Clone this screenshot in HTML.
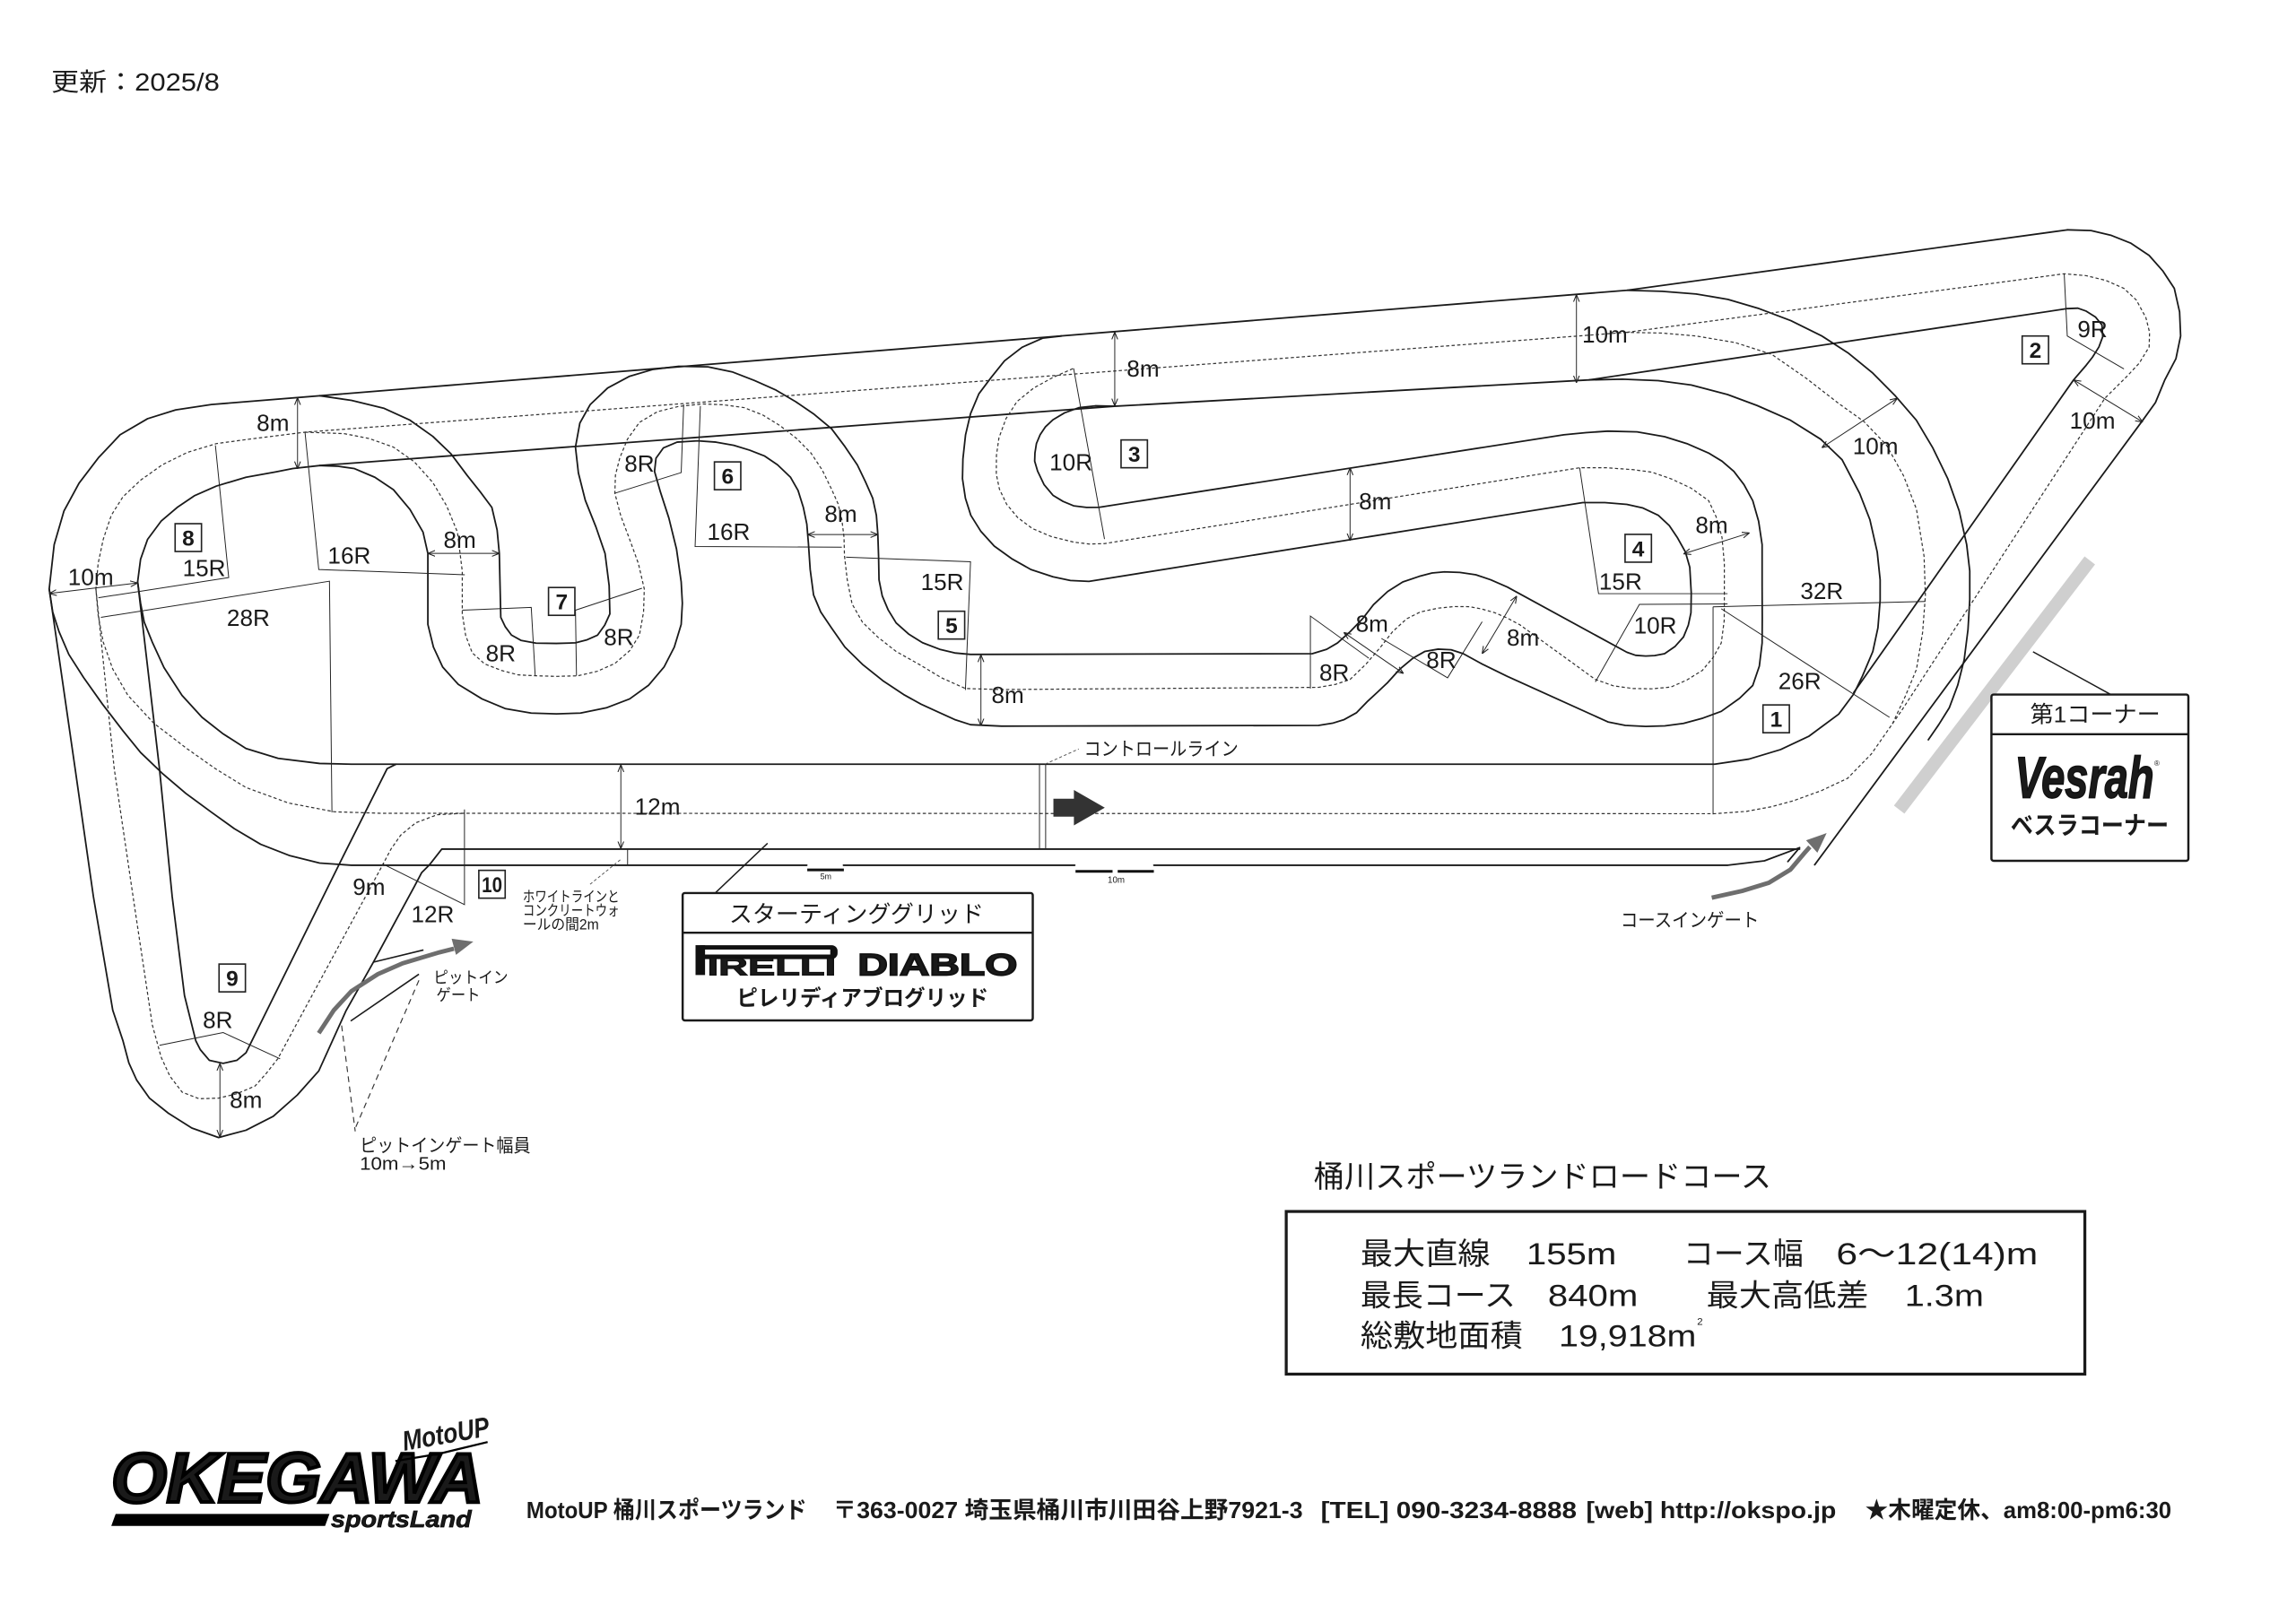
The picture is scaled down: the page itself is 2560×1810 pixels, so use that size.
<!DOCTYPE html>
<html><head><meta charset="utf-8"><style>
html,body{margin:0;padding:0;background:#fff;}
svg{display:block;}
text{font-family:"Liberation Sans","Noto Sans CJK JP",sans-serif;fill:#1a1a1a;}
.t{fill:none;stroke:#1a1a1a;stroke-width:1.1;stroke-linejoin:round;stroke-linecap:round;}
.d{fill:none;stroke:#333;stroke-width:0.75;stroke-dasharray:2.2 1.6;}
.r{fill:none;stroke:#222;stroke-width:0.6;}
.dm{fill:none;stroke:#222;stroke-width:0.6;marker-start:url(#a);marker-end:url(#a);}
.lb{font-size:16px;text-anchor:middle;}
.nb rect{fill:#fff;stroke:#222;stroke-width:1;}
.nb text{font-size:15px;font-weight:bold;text-anchor:middle;}
</style></head><body>
<svg width="2560" height="1810" viewBox="0 0 1568 1108.6" preserveAspectRatio="none" xmlns="http://www.w3.org/2000/svg">
<defs>
<marker id="a" viewBox="0 0 10 10" refX="10" refY="5" markerWidth="5" markerHeight="5" markerUnits="userSpaceOnUse" orient="auto-start-reverse"><path d="M0,1 L10,5 L0,9" fill="none" stroke="#222" stroke-width="1.3"/></marker>
</defs>
<rect x="0" y="0" width="1568" height="1108.6" fill="#fff"/>

<text x="35" y="62" font-size="17" textLength="115" lengthAdjust="spacingAndGlyphs">更新：2025/8</text>

<!-- track solid edges -->
<polyline class="t" points="1411.8,157 1111,198.3 144.4,276.3 120,280 100.8,286 82,297 67.2,312.7 54,330 43.7,349 37,372 33.6,402.3 51.3,525 63.8,612.5 77,690 84,711 88,726 93.3,737.7 102,750 115,760.4 131,770.5 149.3,777 168,772 186.6,762.5 203,748 217.7,731.5 236.4,690.2 255,657.2 270.6,628.3 283,605.5 288,596 293.5,590.5"/>
<polyline class="t" points="33.6,402.3 36,418 40.3,431.4 47,447 57.1,462.8 70,481 84,499.2 96,514 110.8,528.2 127,542 144.4,554.8 160,566 178,576.7 198,584.5 218.3,589.5 240,591 551,591"/>
<polyline class="t" points="576,591 734,591"/>
<polyline class="t" points="788,591 1180,591 1205,588 1229,579 1221,588.5"/>
<polyline class="t" points="293.5,590.5 301.7,580 1229,580"/>
<polyline class="t" points="1411.8,210.8 1085.2,259.5 761,277.5 218.3,318 200,320 188,322.4 168,326 147.8,332 133,338.5 121,346.6 110,356 100.8,368.4 96,382 94,397.4 108.9,525 117.6,612.5 126,680 133.7,710.9 136.8,717 143,724.3 152.4,726.3 161.7,724.3 168,719.1 233.3,587 264.4,525 270.4,522"/>
<polyline class="t" points="94,397.4 96,412 98.5,425 104,438.6 112,456 124.3,475 138,490 152,501 168,511.3 190,518 218.3,521.5 240,522 1171,522 1194.4,518.5 1216,512 1235.2,503 1255.7,487.8 1266,474 1272,461.6 1279,445 1282.5,428.8 1284,410 1284,396 1282,377 1277,355 1270,337 1258,314 1243.4,300 1222.7,287 1200,277 1179.8,269.5 1155,263 1132.5,260 1108,259 1085.2,259.5"/>
<polyline class="t" points="1111,198.3 1135,199 1158.3,200.8 1180,204.5 1201.3,210.8 1223,219 1244.2,229.5 1262,241 1278.6,254.5 1294,270 1308.7,287 1320,306 1330.2,327 1338,349 1343.1,372 1345.2,390 1345.2,409.5 1344,430 1341.4,450.6 1337,468 1331.2,483.5 1324,495 1316.9,505.3"/>
<polyline class="t" points="1411.8,157 1428,157.5 1441.9,160.8 1455,166 1467.7,174.5 1477,185 1484.9,197 1488.5,213 1489.2,229.5 1486,245 1478.4,259.5 1472,275 1463.4,287 1239.3,590.7"/>
<polyline class="t" points="1411.8,210.8 1419,210.5 1424.7,212.5 1431,216.5 1435.5,222 1436,230 1433.4,237 1429,244 1424.7,249.5 1416.1,259.5 1266,473"/>
<polyline class="t" points="218.3,270.3 240,273.5 262,278.8 280,287 295.6,298.1 308,310 319.1,324.8 328,336 335.9,346.6 339.5,362 341,378 341.5,400 342,421.7 345,428 349.3,433.8 356,437.5 366.1,439.3 380,439.5 393,439.1 401,437 408.1,433.8 413,427 416.5,419.3 416,400 413.2,378 407,360 399.7,341.7 395,323 393,305.4 396,289 403.1,276.3 415,265 430,257 446,252.3 463.5,250.2 483.5,250.6 500,254 515.2,259.9 530,266.5 543.3,274.3 556,283 567.9,292.9 577,305 585.5,317.6 591,329 596,340.3 598.5,352 599.5,365.1 600,380 600.3,396 602.5,407 606.6,416.7 612,425.5 620.7,433.2 630,439 641.7,443.5 652,446 662.8,447 896.2,446.5 906,443.5 913.4,439.2 922,431.5 930.5,422.7 938,413 947.7,404 958,397.5 969.2,393.7 978,391.4 986.4,390.6 997,391 1007.9,392.6 1018,396 1029.4,401 1111,445.5 1117,447.6 1123.9,448.1 1130,447.8 1136.8,446.5 1144,441.5 1149.7,435.1 1153,427 1154.8,418.5 1155,405 1154,387.5 1151,377 1145.4,367 1140,359 1132.5,352 1122,347 1111,344.5 1096,343.3 1080.9,343.3 743.7,397.1 731,396.5 719.1,394 704,389 690.9,381.6 679,373 669.9,363 663,352 659.3,340.3 657.3,327 657.6,313.5 659.4,297 662.8,282.6 668.5,269 676.9,257.8 686,246.5 698,237.2 712,231 725,229.5"/>
<polyline class="t" points="218.3,318 231,318.5 241.8,320 256,326 268.7,334.5 280,348 288.9,363.5 292.2,378 292.2,400 292.2,426.5 296,442 302.3,455.6 313,467.5 329.2,477.4 345,484 362.8,487.1 380,487.6 396.4,487.1 414,483.5 430,477.4 443,468 453.5,455.6 460.5,442 465.2,426.5 466,412 465.2,397.4 462,375 456.8,353.9 451,336 447,322 448,313 453,306 462.4,302 476.5,301.1 489,302 501.1,304.2 512,307.5 522.2,311.5 531,317.5 539.8,325.9 545,335 548.6,346.5 551,358 552.1,371.3 553.3,389 555.6,406.4 560.5,418 567.9,429 577,442 589,453.8 603,465 617.1,474.4 629,481 641.7,486.8 652,491.5 662.8,495 683.9,496 900.5,495.5 910,494 918,491.5 926.3,486.9 934,479 940.5,473 947.7,466.2 956,457 964.9,449.6 973,445 982.1,443.4 991,443.8 999.3,446.5 1013,454 1029.4,462 1098.1,493.1 1110,495.5 1123.9,496.2 1137,495.8 1149.7,494.1 1163,490.5 1175.5,485.9 1188,477 1197,468.2 1201.5,455 1203.4,439.2 1203.5,422 1203.4,400 1203.4,372 1201,356 1197,342 1191,331 1184.1,322 1176,315 1166.9,309.5 1152,303 1136.8,298.3 1118,295 1098.1,294.5 1083,295.5 1068,297 750.7,346.5 742,346.6 733.2,345.5 726,342.5 719.1,338.3 713,331 708.6,321.8 706.6,315 706.8,309.4 707.8,303 710.3,297 714,291.5 719.1,286.7 727,282 736.7,278.5 748,277.2 761,277.5"/>

<!-- dotted centerlines -->
<polyline class="d" points="1111,227 208.3,295.2 190,297.5 170,300 147.8,303 128,309 110.8,317.5 96,328 84,339.3 76,352 70.5,368.4 67,385 65.5,402.3 67,420 70.5,438.6 77,457 87.3,474.9 105,494 127.6,511.3 147,525 168,537.9 197,548.5 228.4,554.5 260,555.5 1171,555.8 1192.7,554.2 1210,551 1225,546.9 1244,540 1261.8,531.6 1278,515 1292.4,494.4 1301,476 1308.8,457.2 1313,432 1314.9,406.9 1314,380 1308.8,347.8 1300,325 1288.3,304 1273,288 1255.7,275.6 1233,258 1209.9,242 1185,234 1158.3,229.5 1135,227.5 1111,227"/>
<polyline class="d" points="1111,227 1409.7,187 1424.7,188.3 1438,191.5 1450.5,197 1459,205 1465.5,217 1468,227 1467.7,237 1461,248 1452.6,257 1437.5,272 1298.5,485.6 1292.4,494.4"/>
<polyline class="d" points="208.3,295.2 235.1,296.2 252,299.5 268.7,305.4 283,315.5 295.6,329.6 305,345.5 312.4,363.5 315.7,390.2 315.7,419.2 318,434 322.5,445.9 331,453.5 342.6,458 354,461 366.1,461.6 380,462 394.7,461.6 408,458.5 419.9,453.2 430,444.5 436.7,433.8 439.5,418 440,402.3 436,385 430,368.4 424,352.5 419.9,336.9 420.3,324.5 423.3,312.7 428.5,300 436.7,288.5 449,281.2 463.5,277.6 480.3,275.9 494,276.5 508.1,278.4 521,283.5 532.8,290.8 544,299.5 553.8,309.4 561.5,321 567.9,334.2 572.3,344 574.9,354.8 576.4,367 576.7,379.5 578.6,396 581.9,412.5 589,425 599.5,435.2 612,445 627.7,453.8 643,463 659.3,470.3 683.9,471 900.5,469.5 912,467.5 922,464.1 933,453.5 943.4,441.3 951,431.5 960.6,422.7 970,418 982.1,415.4 993,414.3 1003.6,414.4 1012,416 1020.8,418.5 1029,422 1038,426.8 1089.5,464.1 1102,468.5 1115.3,470.3 1128,470.5 1141.1,469.3 1152,464.5 1162.6,457.9 1170,449 1175.5,439.2 1177.5,424 1177.6,408 1177.6,385 1176,367 1172,353 1166.9,342 1155,333.5 1141.1,327 1128,322.5 1115.3,320.8 1097,319.5 1078.8,319.5 754.3,371.3 744,371.6 733.2,370.3 718,366.5 705,361 695,353.5 687.5,344.5 682.5,334 680.4,323.8 680.5,311 682.2,299.1 687,286 694.5,274.3 706,265 719.1,257.8 733.2,251.6"/>
<polyline class="d" points="65.5,402.3 78,525 92,620 104,700 110,722 116,735 124.4,746 136,750.5 149.3,750.1 162,747 174.2,741.8 182,733 189.7,723.2 261.2,591 267,580 273.7,570.4 284,562 298.6,556.5 317.2,555.5"/>

<!-- radius lines -->
<polyline class="r" points="67.2,408.3 156.2,394.5 147.1,304.2"/>
<polyline class="r" points="68.9,421.7 225,397 226.7,554.9"/>
<polyline class="r" points="208.3,295.2 217.7,389 317.4,392.6"/>
<polyline class="r" points="315.7,416.8 362.8,414.9 365.5,461.6"/>
<polyline class="r" points="393.7,461.6 393,416.8 438.4,401.8"/>
<polyline class="r" points="419.9,336.9 465.2,322.8 466.9,276.3"/>
<polyline class="r" points="478.3,277.4 474.7,373.3 574.9,373.8"/>
<polyline class="r" points="577.8,380.6 662.8,383.7 659.3,471.3"/>
<polyline class="r" points="733.2,251.6 754.3,368.2"/>
<polyline class="r" points="894.9,470.3 894.9,420.8 934.8,449.6"/>
<polyline class="r" points="943.4,436.1 988.6,463 1012.2,424.7"/>
<polyline class="r" points="1078.8,319.5 1091.7,405.5 1179.8,405.5"/>
<polyline class="r" points="1089.5,465.8 1119.6,412.8 1179.8,412.5"/>
<polyline class="r" points="1169.9,414.5 1314.9,410.8"/>
<polyline class="r" points="1169.9,414.4 1169.9,556.3"/>
<polyline class="r" points="1175.5,415.8 1290.4,490"/>
<polyline class="r" points="1409.7,187 1411.8,229.5 1450.5,252"/>
<polyline class="r" points="317.2,552.9 317.2,617.9 261.2,590"/>
<polyline class="r" points="108.9,714 152.4,705.3 191.3,723.2"/>
<polyline class="r" points="428.6,580 428.6,591"/>
<polyline class="r" points="709.9,522 709.9,580"/>
<polyline class="r" points="714.1,522 714.1,580"/>

<!-- dimension arrows -->
<line class="dm" x1="203.2" y1="271.6" x2="203.2" y2="320.2"/>
<line class="dm" x1="33.6" y1="405.4" x2="94" y2="398.2"/>
<line class="dm" x1="292.2" y1="378" x2="341" y2="378"/>
<line class="dm" x1="551.5" y1="365.1" x2="599.5" y2="365.1"/>
<line class="dm" x1="669.9" y1="447.2" x2="669.9" y2="495.8"/>
<line class="dm" x1="761.3" y1="226.8" x2="761.3" y2="277.3"/>
<line class="dm" x1="922" y1="319.5" x2="922" y2="369.3"/>
<line class="dm" x1="1076.6" y1="201.2" x2="1076.6" y2="261.5"/>
<line class="dm" x1="917.7" y1="432" x2="958.5" y2="460"/>
<line class="dm" x1="1012.2" y1="446.5" x2="1035.8" y2="407.1"/>
<line class="dm" x1="1149.7" y1="378.3" x2="1194.8" y2="364"/>
<line class="dm" x1="1244.2" y1="305.8" x2="1295.8" y2="272"/>
<line class="dm" x1="1416.1" y1="259.5" x2="1463.4" y2="288.3"/>
<line class="dm" x1="424" y1="522.3" x2="424" y2="579.7"/>
<line class="dm" x1="150.2" y1="726.3" x2="150.2" y2="776.8"/>

<!-- labels -->
<g class="lb">
<text x="186.4" y="294.3">8m</text>
<text x="62" y="399.6">10m</text>
<text x="139.4" y="393.6">15R</text>
<text x="169.6" y="427.5">28R</text>
<text x="238.5" y="385.1">16R</text>
<text x="314" y="374.2">8m</text>
<text x="342" y="451.7">8R</text>
<text x="422.6" y="440.8">8R</text>
<text x="436.7" y="322.1">8R</text>
<text x="497.6" y="368.8">16R</text>
<text x="574.2" y="356.5">8m</text>
<text x="643.5" y="402.9">15R</text>
<text x="688.2" y="480.2">8m</text>
<text x="731.4" y="321.4">10R</text>
<text x="780.6" y="257.4">8m</text>
<text x="1096" y="234">10m</text>
<text x="939.1" y="347.8">8m</text>
<text x="1169" y="364">8m</text>
<text x="1106.7" y="402.8">15R</text>
<text x="1130.4" y="432.8">10R</text>
<text x="1244.2" y="409.2">32R</text>
<text x="1229.1" y="470.7">26R</text>
<text x="1280.8" y="310.3">10m</text>
<text x="1429" y="292.8">10m</text>
<text x="1429" y="230.3">9R</text>
<text x="911.2" y="464.8">8R</text>
<text x="937" y="431.6">8m</text>
<text x="984.3" y="456.4">8R</text>
<text x="1040.1" y="440.9">8m</text>
<text x="449" y="556.5">12m</text>
<text x="252" y="611.3">9m</text>
<text x="295.5" y="629.8">12R</text>
<text x="148.7" y="702.2">8R</text>
<text x="168" y="756.8">8m</text>
</g>

<!-- number boxes -->
<g class="nb">
<rect x="1204" y="481.5" width="18" height="19"/><text x="1213" y="496.5">1</text>
<rect x="1381" y="229.5" width="18" height="19"/><text x="1390" y="244.5">2</text>
<rect x="765.6" y="300.5" width="18" height="19"/><text x="774.6" y="315.5">3</text>
<rect x="1109.8" y="365" width="18" height="19"/><text x="1118.8" y="380">4</text>
<rect x="640.8" y="417.5" width="18" height="19"/><text x="649.8" y="432.5">5</text>
<rect x="487.9" y="315.5" width="18" height="19"/><text x="496.9" y="330.5">6</text>
<rect x="374.6" y="401.3" width="18" height="19"/><text x="383.6" y="416.3">7</text>
<rect x="119.6" y="357.7" width="18" height="19"/><text x="128.6" y="372.7">8</text>
<rect x="149.6" y="658.5" width="18" height="19"/><text x="158.6" y="673.5">9</text>
<rect x="327" y="594.5" width="18" height="19"/><text x="336" y="609.5" textLength="14" lengthAdjust="spacingAndGlyphs">10</text>
</g>

<!-- grid marks -->
<line x1="551.3" y1="594.2" x2="576.3" y2="594.2" stroke="#111" stroke-width="1.8"/>
<text x="564" y="600.5" font-size="5.5" text-anchor="middle">5m</text>
<line x1="734.5" y1="595.2" x2="759.8" y2="595.2" stroke="#111" stroke-width="1.8"/>
<line x1="763.3" y1="595.2" x2="788" y2="595.2" stroke="#111" stroke-width="1.8"/>
<text x="762.3" y="603" font-size="6" text-anchor="middle">10m</text>

<!-- start/finish arrow -->
<polygon points="719.4,545.6 733.4,545.6 733.4,539.6 754.5,551.7 733.4,563.8 733.4,557.8 719.4,557.8" fill="#333"/>
<line x1="713.8" y1="521.9" x2="736.7" y2="511.6" stroke="#555" stroke-width="0.6" stroke-dasharray="2 1.5"/>
<text x="740.2" y="516" font-size="13" textLength="105.5" lengthAdjust="spacingAndGlyphs">コントロールライン</text>

<!-- white line note -->
<line x1="403" y1="604" x2="424" y2="587" stroke="#555" stroke-width="0.6" stroke-dasharray="2 1.5"/>
<text x="357" y="615.8" font-size="10" textLength="66" lengthAdjust="spacingAndGlyphs">ホワイトラインと</text>
<text x="357" y="625.3" font-size="10" textLength="66" lengthAdjust="spacingAndGlyphs">コンクリートウォ</text>
<text x="357" y="634.8" font-size="10" textLength="52" lengthAdjust="spacingAndGlyphs">ールの間2m</text>

<!-- pit in -->
<line x1="255" y1="657.2" x2="289.2" y2="648.9" stroke="#1a1a1a" stroke-width="1"/>
<line x1="239.5" y1="697.4" x2="286.1" y2="665.4" stroke="#1a1a1a" stroke-width="1"/>
<polyline points="217.7,705.7 228,690 240,677 258,665.4 275,658 300,650.5 310,648" fill="none" stroke="#6e6e6e" stroke-width="3"/>
<polygon points="322,643.5 311.7,651.4 309.1,641.8" fill="#6e6e6e" stroke="#6e6e6e" stroke-width="1"/>
<line x1="233.3" y1="700.5" x2="242.6" y2="772.8" stroke="#333" stroke-width="0.7" stroke-dasharray="4 3"/>
<line x1="286.1" y1="669.6" x2="242.6" y2="770.7" stroke="#333" stroke-width="0.7" stroke-dasharray="4 3"/>
<text x="296" y="671.5" font-size="11" textLength="51" lengthAdjust="spacingAndGlyphs">ピットイン</text>
<text x="298" y="683.5" font-size="11" textLength="30" lengthAdjust="spacingAndGlyphs">ゲート</text>
<text x="245.7" y="786.6" font-size="12.5" textLength="116.6" lengthAdjust="spacingAndGlyphs">ピットインゲート幅員</text>
<text x="245.7" y="799" font-size="12.5" textLength="59" lengthAdjust="spacingAndGlyphs">10m→5m</text>

<!-- course in gate -->
<polyline points="1169,613.2 1190,608.5 1208,603 1222.7,594 1232,583 1236,578.5" fill="none" stroke="#6e6e6e" stroke-width="3"/>
<polygon points="1246.5,569.9 1241,581.6 1234.3,574.2" fill="#6e6e6e" stroke="#6e6e6e" stroke-width="1"/>
<text x="1106.7" y="633" font-size="13" textLength="94.6" lengthAdjust="spacingAndGlyphs">コースインゲート</text>

<!-- gray bar & vesrah -->
<line x1="1427.2" y1="382.8" x2="1297" y2="553" stroke="#cfcfcf" stroke-width="9"/>
<line x1="1388.4" y1="445.2" x2="1441.5" y2="474.4" stroke="#1a1a1a" stroke-width="0.9"/>
<rect x="1360" y="474.4" width="134.5" height="113.6" rx="1.5" fill="#fff" stroke="#1a1a1a" stroke-width="1.5"/>
<line x1="1360" y1="501.5" x2="1494.5" y2="501.5" stroke="#1a1a1a" stroke-width="1.5"/>
<text x="1386.4" y="493.5" font-size="15.5" textLength="89" lengthAdjust="spacingAndGlyphs">第1コーナー</text>
<text x="1376" y="544.7" font-size="40" font-weight="bold" font-style="italic" stroke="#111" stroke-width="1" textLength="95" lengthAdjust="spacingAndGlyphs">Vesrah</text>
<text x="1473" y="523" font-size="5" text-anchor="middle">®</text>
<text x="1373.1" y="569.5" font-size="17" font-weight="bold" textLength="108" lengthAdjust="spacingAndGlyphs">ベスラコーナー</text>

<!-- starting grid -->
<line x1="524.2" y1="576" x2="488.4" y2="610" stroke="#1a1a1a" stroke-width="0.9"/>
<rect x="466.2" y="610" width="239.1" height="87" rx="1.5" fill="#fff" stroke="#1a1a1a" stroke-width="1.5"/>
<line x1="466.2" y1="637.1" x2="705.3" y2="637.1" stroke="#1a1a1a" stroke-width="1.5"/>
<text x="497.9" y="630" font-size="16" textLength="174" lengthAdjust="spacingAndGlyphs">スターティンググリッド</text>
<rect x="475" y="645.6" width="97" height="9.5" rx="4" fill="#111"/>
<rect x="481" y="648.6" width="86" height="3.4" fill="#fff"/>
<rect x="475" y="645.6" width="6.5" height="20.4" fill="#111"/>
<text x="483" y="666" font-size="17" font-weight="bold" stroke="#111" stroke-width="0.6" textLength="88" lengthAdjust="spacingAndGlyphs">IRELLI</text>
<text x="585.8" y="666" font-size="21" font-weight="bold" stroke="#111" stroke-width="1" textLength="109" lengthAdjust="spacingAndGlyphs">DIABLO</text>
<text x="503.1" y="687" font-size="15" font-weight="bold" textLength="172" lengthAdjust="spacingAndGlyphs">ピレリディアブログリッド</text>

<!-- info -->
<text x="897.2" y="811" font-size="21" textLength="312.5" lengthAdjust="spacingAndGlyphs">桶川スポーツランドロードコース</text>
<rect x="878.4" y="827.5" width="545.4" height="111.1" fill="none" stroke="#1a1a1a" stroke-width="2"/>
<g font-size="21">
<text x="929.1" y="863.5" textLength="88.6" lengthAdjust="spacingAndGlyphs">最大直線</text>
<text x="1042.4" y="863.5" textLength="61.5" lengthAdjust="spacingAndGlyphs">155m</text>
<text x="1149.6" y="863.5" textLength="82" lengthAdjust="spacingAndGlyphs">コース幅</text>
<text x="1254" y="863.5" textLength="137.8" lengthAdjust="spacingAndGlyphs">6〜12(14)m</text>
<text x="929.1" y="892" textLength="106" lengthAdjust="spacingAndGlyphs">最長コース</text>
<text x="1057.1" y="892" textLength="61.5" lengthAdjust="spacingAndGlyphs">840m</text>
<text x="1165.4" y="892" textLength="110.7" lengthAdjust="spacingAndGlyphs">最大高低差</text>
<text x="1300.8" y="892" textLength="54" lengthAdjust="spacingAndGlyphs">1.3m</text>
<text x="929.1" y="919.6" textLength="110.8" lengthAdjust="spacingAndGlyphs">総敷地面積</text>
<text x="1064.5" y="919.6" textLength="94" lengthAdjust="spacingAndGlyphs">19,918m</text>
<text x="1159" y="905" font-size="7">2</text>
</g>

<!-- logo -->
<text x="76" y="1026" font-size="48" font-weight="bold" font-style="italic" stroke="#000" stroke-width="2.5" fill="#000" textLength="254" lengthAdjust="spacingAndGlyphs">OKEGAWA</text>
<polygon points="79,1034.1 225,1034.1 222,1042.3 76,1042.3" fill="#000"/>
<text x="226" y="1043" font-size="16" font-weight="bold" font-style="italic" fill="#000" stroke="#000" stroke-width="0.4" textLength="96" lengthAdjust="spacingAndGlyphs">sportsLand</text>
<text x="276" y="991" font-size="19" font-weight="bold" font-style="italic" fill="#000" transform="rotate(-10 276 991)" textLength="60" lengthAdjust="spacingAndGlyphs">MotoUP</text>
<polyline points="270,998 300,993 333,985" fill="none" stroke="#000" stroke-width="1.4"/>

<!-- footer -->
<g font-size="16" font-weight="bold">
<text x="359.5" y="1037" textLength="191.5" lengthAdjust="spacingAndGlyphs">MotoUP 桶川スポーツランド</text>
<text x="568.7" y="1037" textLength="321" lengthAdjust="spacingAndGlyphs">〒363-0027 埼玉県桶川市川田谷上野7921-3</text>
<text x="902" y="1037" textLength="174.8" lengthAdjust="spacingAndGlyphs">[TEL] 090-3234-8888</text>
<text x="1083.2" y="1037" textLength="170.8" lengthAdjust="spacingAndGlyphs">[web] http://okspo.jp</text>
<text x="1273.7" y="1037" textLength="209.2" lengthAdjust="spacingAndGlyphs">★木曜定休、am8:00-pm6:30</text>
</g>
</svg>
</body></html>
